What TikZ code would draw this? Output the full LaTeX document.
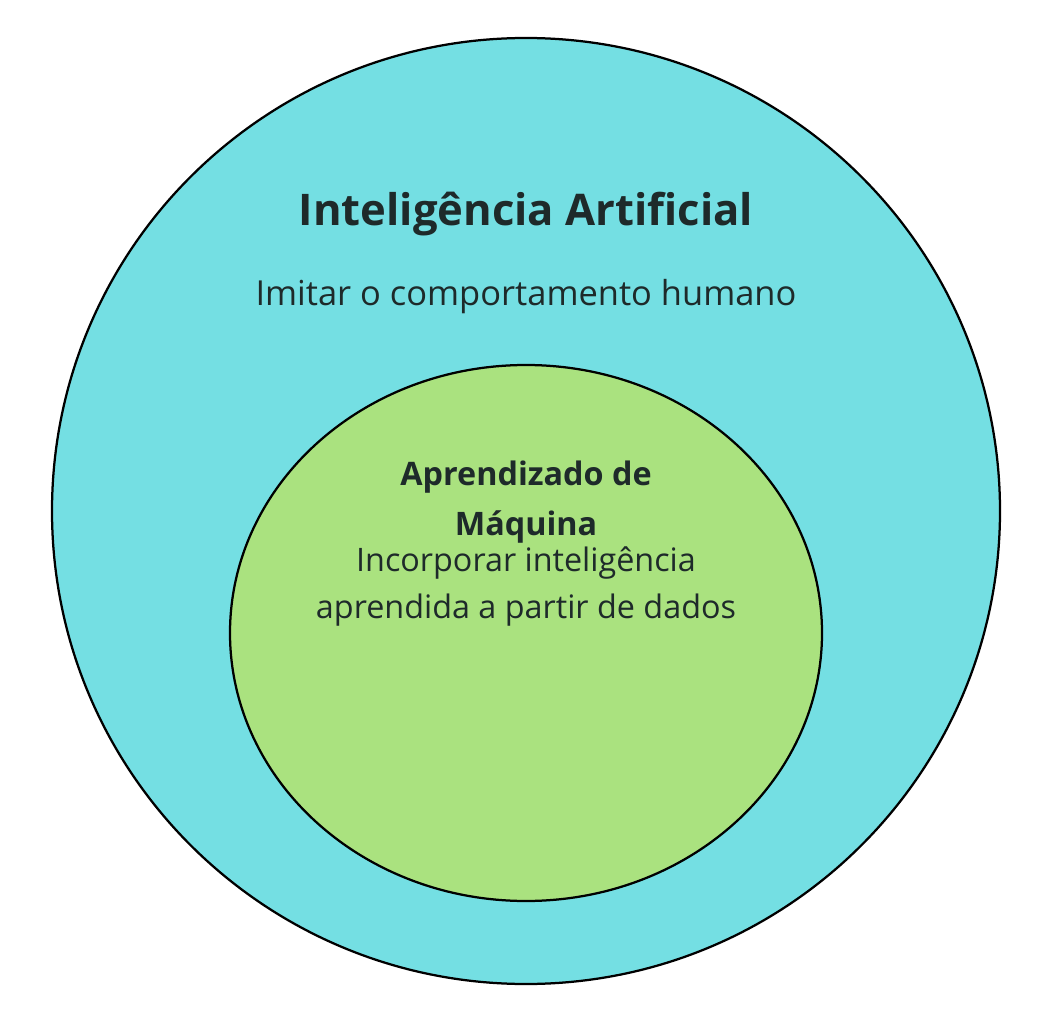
\documentclass[tikz,border=0pt]{standalone}
\usepackage{fontspec}
\setmainfont{Open Sans}
\usetikzlibrary{positioning}
\definecolor{aicyan}{HTML}{74DFE3}
\definecolor{mlgreen}{HTML}{AAE27F}
\definecolor{inkdark}{HTML}{1E2A2A}

\begin{document}
\begin{tikzpicture}[x=0.025cm,y=-0.025cm]
% Define styles
\tikzset{region/.style={draw=black, line width=1.6pt},
  titletext/.style={text=inkdark, font=\bfseries\fontsize{31}{37}\selectfont},
  subtext/.style={text=inkdark, font=\fontsize{24.5}{30}\selectfont, align=center},
  mltitle/.style={text=inkdark, font=\bfseries\fontsize{23}{35}\selectfont, align=center},
  mltext/.style={text=inkdark, font=\fontsize{23}{33}\selectfont, align=center}}
\useasboundingbox (0,0) rectangle (1052,1024);

% Regions
\draw[region, fill=aicyan] (526,511) ellipse (474 and 473);
\draw[region, fill=mlgreen] (526,633) ellipse (296 and 268);

% Labels
\node (aititle) [titletext] at (526,214) {Inteligência Artificial};
\node (aidesc) [subtext] at (526,297) {Imitar o comportamento humano};
\node (mltitle) [mltitle] at (526,502) {Aprendizado de\\Máquina};
\node (mldesc) [mltext, below=-4pt of mltitle] {Incorporar inteligência\\aprendida a partir de dados};
\end{tikzpicture}
\end{document}
